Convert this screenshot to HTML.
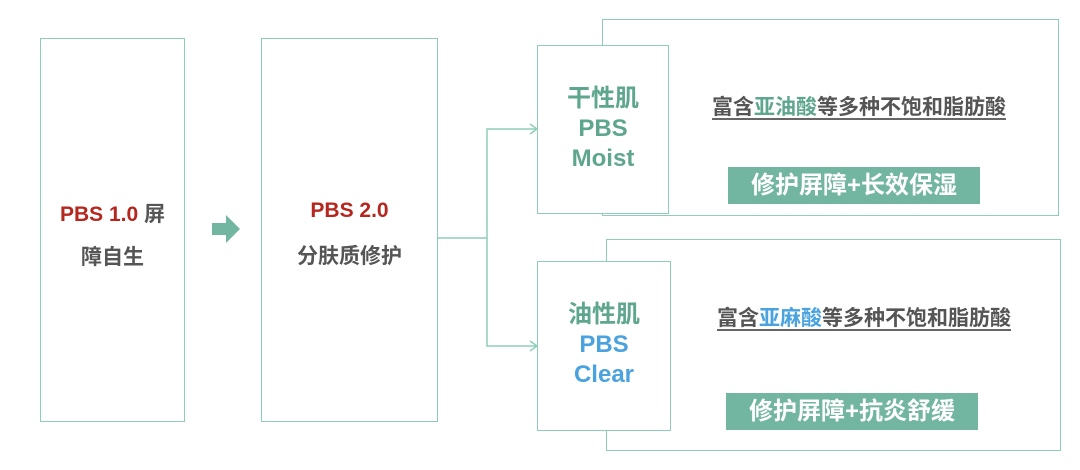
<!DOCTYPE html>
<html><head><meta charset="utf-8"><style>
body{margin:0;width:1080px;height:470px;background:#fff;position:relative;font-family:"Liberation Sans","Noto Sans CJK SC",sans-serif;font-weight:bold;overflow:hidden}
.b{position:absolute;border:1.5px solid #8fcdb8;box-sizing:border-box;background:#fff}
.t{position:absolute;text-align:center;white-space:nowrap}
.bar{position:absolute;background:#72b5a1;color:#fff;font-size:24px;text-align:center;box-sizing:border-box}
u{text-decoration-thickness:2px;text-underline-offset:4px;text-decoration-color:#666}
</style></head><body>
<div class="b" style="left:40px;top:38px;width:145px;height:384px"></div>
<div class="t" style="left:40px;width:145px;top:193px;font-size:21px;line-height:43px;color:#555"><span style="color:#b5261e">PBS 1.0</span> 屏<br>障自生</div>
<svg style="position:absolute;left:0;top:0" width="1080" height="470">
<polygon points="212,223 226,223 226,215 240,229 226,243 226,235 212,235" fill="#72b5a1"/>
<polyline points="437,238 487,238" stroke="#8fcdb8" stroke-width="1.5" fill="none"/>
<polyline points="537,129 487,129 487,346 537,346" stroke="#8fcdb8" stroke-width="1.5" fill="none"/>
<polyline points="530,124 537,129 530,134" stroke="#8fcdb8" stroke-width="1.5" fill="none"/>
<polyline points="530,341 537,346 530,351" stroke="#8fcdb8" stroke-width="1.5" fill="none"/>
</svg>
<div class="b" style="left:261px;top:38px;width:177px;height:384px"></div>
<div class="t" style="left:261px;width:177px;top:188px;font-size:21px;line-height:46px;color:#555"><span style="color:#b5261e">PBS 2.0</span><br>分肤质修护</div>
<div class="b" style="left:602px;top:19px;width:457px;height:197px"></div>
<div class="b" style="left:537px;top:45px;width:132px;height:169px"></div>
<div class="t" style="left:537px;width:132px;top:84px;font-size:24px;line-height:30px;color:#5fa68f">干性肌<br>PBS<br>Moist</div>
<div class="t" style="left:707px;width:304px;top:91px;font-size:21px;color:#555"><u>富含<span style="color:#5fa68f">亚油酸</span>等多种不饱和脂肪酸</u></div>
<div class="bar" style="left:728px;top:167px;width:252px;height:37px;line-height:37px">修护屏障+长效保湿</div>
<div class="b" style="left:606px;top:239px;width:455px;height:212px"></div>
<div class="b" style="left:537px;top:261px;width:134px;height:170px"></div>
<div class="t" style="left:537px;width:134px;top:300px;font-size:24px;line-height:30px;color:#5fa68f">油性肌<br><span style="color:#4aa3df">PBS<br>Clear</span></div>
<div class="t" style="left:712px;width:304px;top:302px;font-size:21px;color:#555"><u>富含<span style="color:#4aa3df">亚麻酸</span>等多种不饱和脂肪酸</u></div>
<div class="bar" style="left:726px;top:393px;width:252px;height:37px;line-height:37px">修护屏障+抗炎舒缓</div>
</body></html>
